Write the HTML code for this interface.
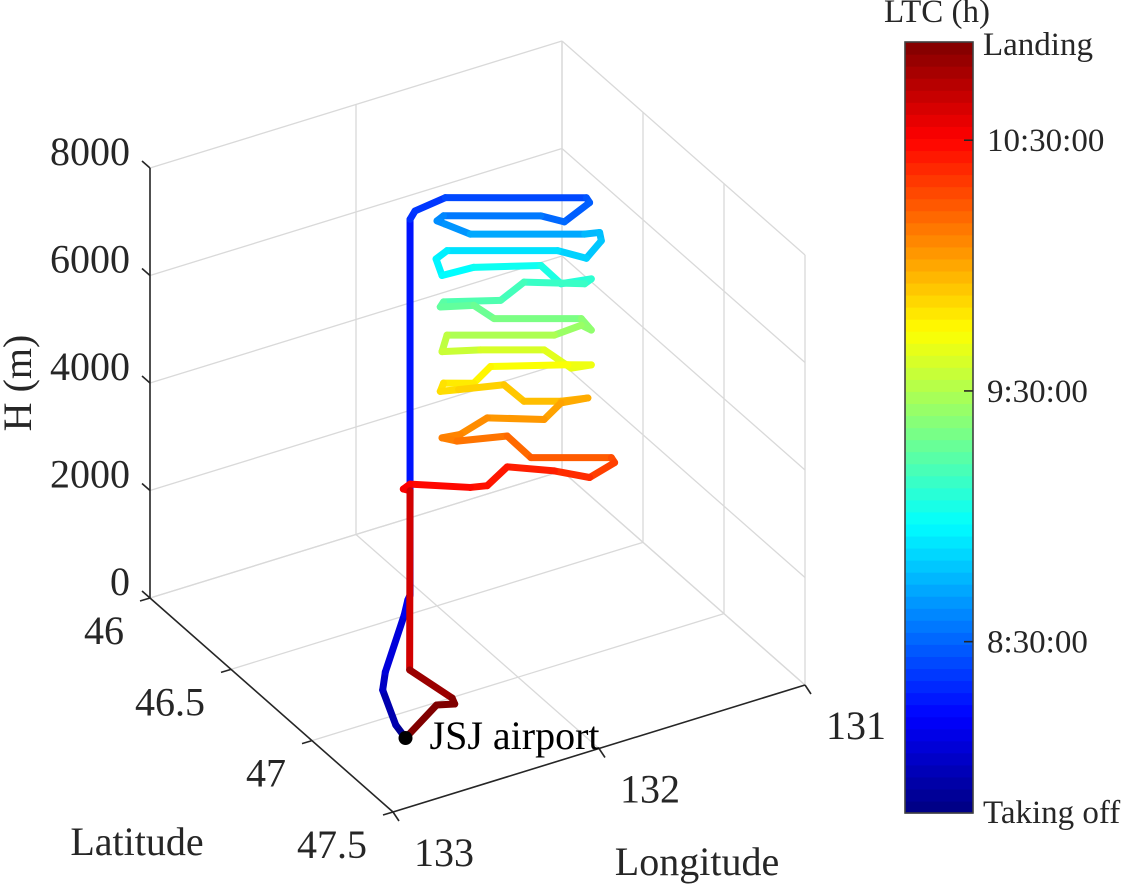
<!DOCTYPE html>
<html><head><meta charset="utf-8">
<style>
html,body{margin:0;padding:0;background:#fff;}
svg{display:block;font-family:"Liberation Serif",serif;}
</style></head>
<body>
<svg id="chart" width="1125" height="886" viewBox="0 0 1125 886" xmlns="http://www.w3.org/2000/svg">
  <g id="grid"></g>
  <g id="axes"></g>
  <g id="track"></g>
  <g id="cbar"></g>
</svg>
<script>
// ---- data (lat in deg N, lon in deg E, altitude m, time in minutes after midnight LTC) ----
const trackLat = [47.136,47.053,46.850,46.761,46.495,46.423,46.401,
46.401,46.409,46.457,46.683,46.688,46.648,46.610,46.454,46.444,46.457,
46.497,46.680,46.704,46.707,46.683,46.637,46.460,46.442,46.452,46.503,
46.610,46.642,46.691,46.680,46.583,46.546,46.454,46.449,46.503,46.535,
46.675,46.691,46.675,46.632,46.460,46.452,46.513,46.615,46.658,46.691,
46.653,46.529,46.503,46.454,46.449,46.478,46.551,46.583,46.642,46.685,
46.642,46.615,46.524,46.481,46.452,46.476,46.556,46.594,46.723,46.728,
46.688,46.632,46.556,46.524,46.497,46.401,46.390,46.401,
46.789,47.003,47.038,47.014,47.136];
const trackLon = [132.653,132.635,132.539,132.456,132.155,132.081,132.053,
132.053,132.035,131.926,131.419,131.407,131.498,131.582,131.932,131.956,131.926,
131.836,131.425,131.371,131.365,131.419,131.522,131.920,131.959,131.938,131.824,
131.582,131.510,131.401,131.425,131.643,131.727,131.932,131.944,131.824,131.751,
131.437,131.401,131.437,131.534,131.920,131.938,131.799,131.570,131.473,131.401,
131.485,131.763,131.824,131.932,131.944,131.878,131.715,131.643,131.510,131.413,
131.510,131.570,131.775,131.872,131.938,131.884,131.703,131.618,131.329,131.317,
131.407,131.534,131.703,131.775,131.836,132.053,132.077,132.053,
132.360,132.322,132.337,132.406,132.653];
const trackAlt = [0,0,0,0,0,0,0,
6991,7146,7392,7392,7300,6943,7054,7054,6961,6899,
6714,6714,6745,6592,6265,6407,6407,6252,5945,6098,
6130,5790,5882,5790,5821,5483,5452,5359,5391,5143,
5143,4929,5021,4836,4836,4528,4559,4559,4219,4282,
4282,4250,3942,3942,3788,3820,3912,3604,3604,3665,
3572,3265,3295,2988,2925,2864,2957,2556,2556,2463,
2186,2310,2384,2033,2001,2064,1972,1940,
0,0,0,0,0];
const trackTime = [470,475,480,483,488,490,491,
500,501,503,507,508,510,512,516,517,518,
520,525,526,527,529,531,535,536,537,539,
542,544,546,547,550,551,554,555,557,558,
563,564,565,567,572,573,576,578,580,581,
582,585,587,589,590,591,594,595,597,599,
600,602,604,606,607,608,611,612,616,617,
621,624,626,627,628,630,631,632,
645,652,653,655,658];
const airportLat = [47.136];
const airportLon = [132.653];
const zTicks = [0,2000,4000,6000,8000];
const zTickLabels = ["0","2000","4000","6000","8000"];
const latTicks = [46,46.5,47,47.5];
const latTickLabels = ["46","46.5","47","47.5"];
const lonTicks = [133,132,131];
const lonTickLabels = ["133","132","131"];
const cbarTicks = [510,570,630];
const cbarTickLabels = ["8:30:00","9:30:00","10:30:00"];
const cbarMin = 469, cbarMax = 653.5;

const LAT0=46, LAT1=47.5, LON0=133, LON1=131, ZMAX=8000;
function proj(lat, lon, z){
  const u=(lat-LAT0)/(LAT1-LAT0), v=(LON0-lon)/(LON0-LON1), w=z/ZMAX;
  return [150+243*u+412*v, 598+214*u-127*v-430*w];
}
function jet(t){
  t=Math.max(0,Math.min(1,t));
  const f=x=>Math.max(0,Math.min(1,x));
  const r=f(Math.min(4*t-1.5,-4*t+4.5)), g=f(Math.min(4*t-0.5,-4*t+3.5)), b=f(Math.min(4*t+0.5,-4*t+2.5));
  return `rgb(${Math.round(r*255)},${Math.round(g*255)},${Math.round(b*255)})`;
}
const NS="http://www.w3.org/2000/svg";
function mk(tag, attrs, parent){
  const e=document.createElementNS(NS,tag);
  for(const k in attrs) e.setAttribute(k,attrs[k]);
  parent.appendChild(e); return e;
}
const grid=document.getElementById('grid'), axes=document.getElementById('axes'),
      track=document.getElementById('track'), cbar=document.getElementById('cbar');
function line(p,q,stroke,sw,parent,name){
  const l=mk('line',{x1:p[0],y1:p[1],x2:q[0],y2:q[1],stroke:stroke,'stroke-width':sw},parent);
  
  
  return l;
}
const GC="#d9d9d9";
zTicks.forEach(z=>{
  line(proj(LAT0,LON0,z),proj(LAT0,LON1,z),GC,1.3,grid,'z-grid-line-back');
  line(proj(LAT0,LON1,z),proj(LAT1,LON1,z),GC,1.3,grid,'z-grid-line-side');
});
lonTicks.forEach(lo=>{
  line(proj(LAT0,lo,0),proj(LAT0,lo,ZMAX),GC,1.3,grid,'lon-grid-line-wall');
  line(proj(LAT0,lo,0),proj(LAT1,lo,0),GC,1.3,grid,'lon-grid-line-floor');
});
latTicks.forEach(la=>{
  line(proj(la,LON1,0),proj(la,LON1,ZMAX),GC,1.3,grid,'lat-grid-line-wall');
  line(proj(la,LON0,0),proj(la,LON1,0),GC,1.3,grid,'lat-grid-line-floor');
});
const AC="#262626";
line(proj(LAT0,LON0,0),proj(LAT0,LON0,ZMAX),AC,1.6,axes,'z-axis-line');
line(proj(LAT0,LON0,0),proj(LAT1,LON0,0),AC,1.6,axes,'latitude-axis-line');
line(proj(LAT1,LON0,0),proj(LAT1,LON1,0),AC,1.6,axes,'longitude-axis-line');
function txt(s,x,y,size,anchor,parent,name,extra){
  const t=mk('text',Object.assign({x:x,y:y,'font-size':size,'text-anchor':anchor,fill:'#262626'},extra||{}),parent);
  t.textContent=s;
  
  
  return t;
}
zTicks.forEach((z,i)=>{
  const p=proj(LAT0,LON0,z);
  line(p,[p[0]-8,p[1]-7],AC,1.6,axes,'z-tick');
  txt(zTickLabels[i],130,p[1]-3,40,'end',axes,'z-tick-label');
});
latTicks.forEach((la,i)=>{
  const p=proj(la,LON0,0);
  line(p,[p[0]-10,p[1]+3],AC,1.6,axes,'latitude-tick');
  txt(latTickLabels[i],p[0]-26,p[1]+46,40,'end',axes,'latitude-tick-label');
});
lonTicks.forEach((lo,i)=>{
  const p=proj(LAT1,lo,0);
  line(p,[p[0]+6,p[1]+9],AC,1.6,axes,'longitude-tick');
  txt(lonTickLabels[i],p[0]+21,p[1]+54,40,'start',axes,'longitude-tick-label');
});
txt("H (m)",0,0,40,'middle',axes,'z-axis-title',{transform:'translate(31,383) rotate(-90)'});
txt("Latitude",137,855,40,'middle',axes,'latitude-axis-title');
txt("Longitude",697,875,40,'middle',axes,'longitude-axis-title');

for(let i=0;i<trackLat.length-1;i++){
  const p=proj(trackLat[i],trackLon[i],trackAlt[i]), q=proj(trackLat[i+1],trackLon[i+1],trackAlt[i+1]);
  const tm=(trackTime[i]+trackTime[i+1])/2;
  const s=mk('line',{x1:p[0],y1:p[1],x2:q[0],y2:q[1],stroke:jet((tm-cbarMin)/(cbarMax-cbarMin)),'stroke-width':7,'stroke-linecap':'round'},track);
  
  
}
const ap=proj(airportLat[0],airportLon[0],0);
const apc=mk('circle',{cx:ap[0],cy:ap[1],r:7,fill:'#000'},track);


txt("JSJ airport",ap[0]+24,ap[1]+11,40,'start',track,'airport-label',{fill:'#000'});

const CX=905, CW=68, CT=42, CB=813, NB=64;
for(let k=0;k<NB;k++){
  const y0=CB-(k+1)*(CB-CT)/NB;
  const r=mk('rect',{x:CX,y:y0,width:CW,height:(CB-CT)/NB+0.6,fill:jet((k+0.5)/NB)},cbar);
  
  
}
const cbo=mk('rect',{x:CX,y:CT,width:CW,height:CB-CT,fill:'none',stroke:'#404040','stroke-width':1.6},cbar);


function cy(t){return CB-(t-cbarMin)/(cbarMax-cbarMin)*(CB-CT);}
cbarTicks.forEach((t,i)=>{
  const y=cy(t);
  line([CX+CW-9,y],[CX+CW,y],'#262626',1.6,cbar,'colorbar-tick');
  txt(cbarTickLabels[i],987,y+11,33,'start',cbar,'colorbar-tick-label');
});
txt("Landing",983,55,33,'start',cbar,'colorbar-top-label');
txt("Taking off",983,823,33,'start',cbar,'colorbar-bottom-label');
txt("LTC (h)",937,22,33,'middle',cbar,'colorbar-title');
</script>
</body></html>
